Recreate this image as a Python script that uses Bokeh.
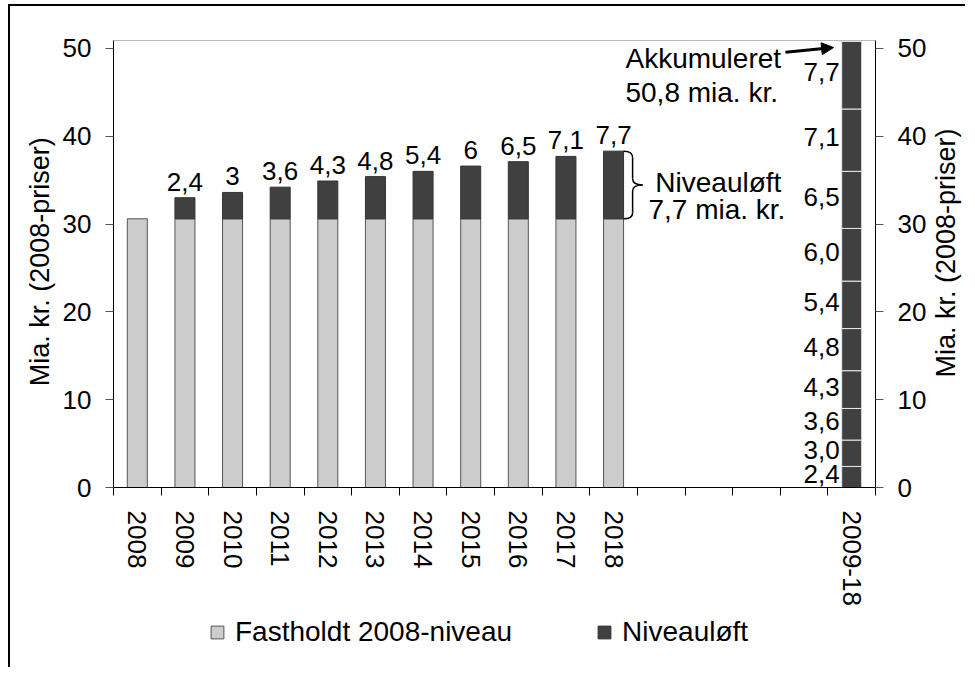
import math
from bokeh.plotting import figure
from bokeh.models import (Range1d, LinearAxis, FixedTicker, Legend, LegendItem,
                          Arrow, NormalHead, ColumnDataSource)
from bokeh.core.properties import value
from bokeh.embed import file_html
from bokeh.resources import INLINE

# ---------------- data ----------------
years = ["2008", "2009", "2010", "2011", "2012", "2013", "2014", "2015", "2016", "2017", "2018"]
fastholdt = [30.6, 30.6, 30.6, 30.6, 30.6, 30.6, 30.6, 30.6, 30.6, 30.6, 30.6]
niveauloeft = [0.0, 2.4, 3.0, 3.6, 4.3, 4.8, 5.4, 6.0, 6.5, 7.1, 7.7]
akk_label = "2009-18"
gap_slots = 4
y_ticks = [0, 10, 20, 30, 40, 50]
axis_title = "Mia. kr. (2008-priser)"
legend_labels = ["Fastholdt 2008-niveau", "Niveauløft"]
note_akk_title = "Akkumuleret"
note_niv_title = "Niveauløft"

# ---------------- styles / layout ----------------
FONT = "Liberation Sans"
LIGHT = "#cccccc"
DARK = "#404040"
LIGHT_LINE = "#555555"
DARK_LINE = "#333333"
BAR_W = 0.42
W, H = 957, 663            # canvas size
PLOT_L, PLOT_R = 103, 865  # plot area in canvas px (x)
PLOT_T, PLOT_B = 34, 481   # plot area in canvas px (y)
Y_TOP = 50.9               # value at the top edge of the plot area
LEFT_TITLE_DX = -74        # px from the plot area's left edge
RIGHT_TITLE_DX = 832       # px from the plot area's left edge


def fmt_g(v):
    return f"{v:g}".replace(".", ",")


def fmt_1(v):
    return f"{v:.1f}".replace(".", ",")


n = len(years)
x_year = [i + 0.5 for i in range(n)]
x_akk = n + gap_slots + 0.5
n_slots = n + gap_slots + 1

# ranges so that the whole canvas is the frame; the chart area sits inside it
px_x = (PLOT_R - PLOT_L) / n_slots
px_y = (PLOT_B - PLOT_T) / Y_TOP
x_rng = Range1d(-PLOT_L / px_x, (W - PLOT_L) / px_x)
y_rng = Range1d(-(H - PLOT_B) / px_y, PLOT_B / px_y)

p = figure(width=W, height=H, output_backend="svg", toolbar_location=None,
           x_range=x_rng, y_range=y_rng,
           min_border_left=0, min_border_right=0, min_border_top=0, min_border_bottom=0)
p.styles = {"border-left": "2px solid black", "border-top": "2px solid black",
            "margin-left": "8px", "margin-top": "4px"}
p.xgrid.visible = False
p.ygrid.visible = False
p.outline_line_color = None
p.background_fill_color = "white"
p.border_fill_color = "white"

# top edge of the plot area (light grey)
p.segment(x0=[0], y0=[Y_TOP], x1=[n_slots], y1=[Y_TOP], line_color="#b8b8b8", line_width=1)

# light bars (fixed 2008 level)
src_light = ColumnDataSource(dict(x=x_year, top=fastholdt))
r_light = p.vbar(x="x", top="top", bottom=0, width=BAR_W, source=src_light,
                 fill_color=LIGHT, line_color=LIGHT_LINE, line_width=1)

# dark bars (level increase)
dx, db, dt, dl = [], [], [], []
for xi, b, v in zip(x_year, fastholdt, niveauloeft):
    if v > 0:
        dx.append(xi); db.append(b); dt.append(b + v); dl.append(fmt_g(v))
src_dark = ColumnDataSource(dict(x=dx, bottom=db, top=dt, label=dl))
r_dark = p.vbar(x="x", top="top", bottom="bottom", width=BAR_W, source=src_dark,
                fill_color=DARK, line_color=DARK_LINE, line_width=1)
p.text(x="x", y="top", text="label", source=src_dark, text_align="center",
       text_baseline="bottom", y_offset=-7, text_font=value(FONT),
       text_font_size="26px", text_color="black")

# accumulated bar
incs = [v for v in niveauloeft if v > 0]
ab, at, am, al = [], [], [], []
cum = 0.0
for v in incs:
    ab.append(cum); at.append(cum + v); am.append(cum + v / 2); al.append(fmt_1(v))
    cum += v
total = cum
src_akk = ColumnDataSource(dict(x=[x_akk] * len(incs), bottom=ab, top=at, mid=am, label=al,
                                lx=[x_akk - BAR_W / 2] * len(incs)))
p.vbar(x="x", top="top", bottom="bottom", width=BAR_W, source=src_akk,
       fill_color=DARK, line_color="#e8e8e8", line_width=1)
p.text(x="lx", y="mid", text="label", source=src_akk, text_align="right",
       text_baseline="middle", x_offset=-2, y_offset=-3, text_font=value(FONT),
       text_font_size="26px", text_color="black")

# x axis: labels at category centers, tick marks at category boundaries
label_pos = x_year + [x_akk]
label_txt = years + [akk_label]
xa = p.xaxis[0]
xa.fixed_location = 0
xa.bounds = (0, n_slots)
xa.ticker = FixedTicker(ticks=label_pos, minor_ticks=[float(i) for i in range(n_slots + 1)])
xa.major_label_overrides = {pos: txt for pos, txt in zip(label_pos, label_txt)}
xa.major_label_orientation = -math.pi / 2
xa.major_tick_line_color = None
xa.minor_tick_line_color = "black"
xa.minor_tick_out = 8
xa.minor_tick_in = 0
xa.axis_line_color = "black"
xa.major_label_text_font = FONT
xa.major_label_text_font_size = "26px"
xa.major_label_text_color = "black"
xa.major_label_standoff = 15

# y axes (left and right), placed at the plot-area edges
ya = p.yaxis[0]
ya.fixed_location = 0
ra = LinearAxis(fixed_location=n_slots)
p.add_layout(ra, "right")
for ax in (ya, ra):
    ax.bounds = (0, Y_TOP)
    ax.ticker = FixedTicker(ticks=y_ticks)
    ax.minor_tick_line_color = None
    ax.major_tick_out = 8
    ax.major_tick_in = 0
    ax.major_tick_line_color = "#555555"
    ax.axis_line_color = "black"
    ax.major_label_text_font = FONT
    ax.major_label_text_font_size = "26px"
    ax.major_label_text_color = "black"
    ax.major_label_standoff = 14

# axis titles (both read bottom-to-top)
p.text(x=[LEFT_TITLE_DX / px_x, RIGHT_TITLE_DX / px_x],
       y=[25.7, 26.7], text=[axis_title, axis_title], angle=math.pi / 2,
       text_align="center", text_baseline="middle", text_font=value(FONT),
       text_font_size="27px", text_color="black")

# brace next to the 2018 bar
T = fastholdt[-1] + niveauloeft[-1]
B = fastholdt[-1]
M = (T + B) / 2
x0 = x_year[-1] + BAR_W / 2
xb = x0 + 0.19
xt = x0 + 0.40
h = 0.7
p.quadratic(x0=[x0, xb, xt, xb], y0=[T, M + h, M, B + h],
            x1=[xb, xt, xb, x0], y1=[T - h, M, M - h, B],
            cx=[xb, xb, xb, xb], cy=[T, M, M, B],
            line_color="black", line_width=1.5)
p.segment(x0=[xb, xb], y0=[T - h, M - h], x1=[xb, xb], y1=[M + h, B + h],
          line_color="black", line_width=1.5)
p.text(x=[x_year[-1] + 2.2, x_year[-1] + 2.17], y=[M + 0.3, M - 2.8],
       text=[note_niv_title, fmt_g(niveauloeft[-1]) + " mia. kr."],
       text_align="center", text_baseline="middle", text_font=value(FONT),
       text_font_size="28px", text_color="black")

# accumulated note and arrow
p.text(x=[10.75, 10.75], y=[total - 2.0, total - 5.85],
       text=[note_akk_title, fmt_1(total) + " mia. kr."],
       text_align="left", text_baseline="middle", text_font=value(FONT),
       text_font_size="28px", text_color="black")
p.add_layout(Arrow(end=NormalHead(size=12, fill_color="black", line_color="black"),
                   x_start=14.11, y_start=total - 1.25, x_end=x_akk - BAR_W / 2 - 0.17,
                   y_end=total - 0.7, line_width=3, line_color="black"))

# legend below the chart
legend = Legend(items=[LegendItem(label=legend_labels[0], renderers=[r_light]),
                       LegendItem(label=legend_labels[1], renderers=[r_dark])],
                orientation="horizontal", location=(199, 21),
                glyph_width=16, glyph_height=16, label_standoff=10, spacing=84,
                padding=0, margin=0, border_line_color=None,
                background_fill_alpha=0, label_text_font=FONT,
                label_text_font_size="28px", label_text_color="black")
p.add_layout(legend, "center")

open("out.html", "w").write(file_html(p, INLINE))
